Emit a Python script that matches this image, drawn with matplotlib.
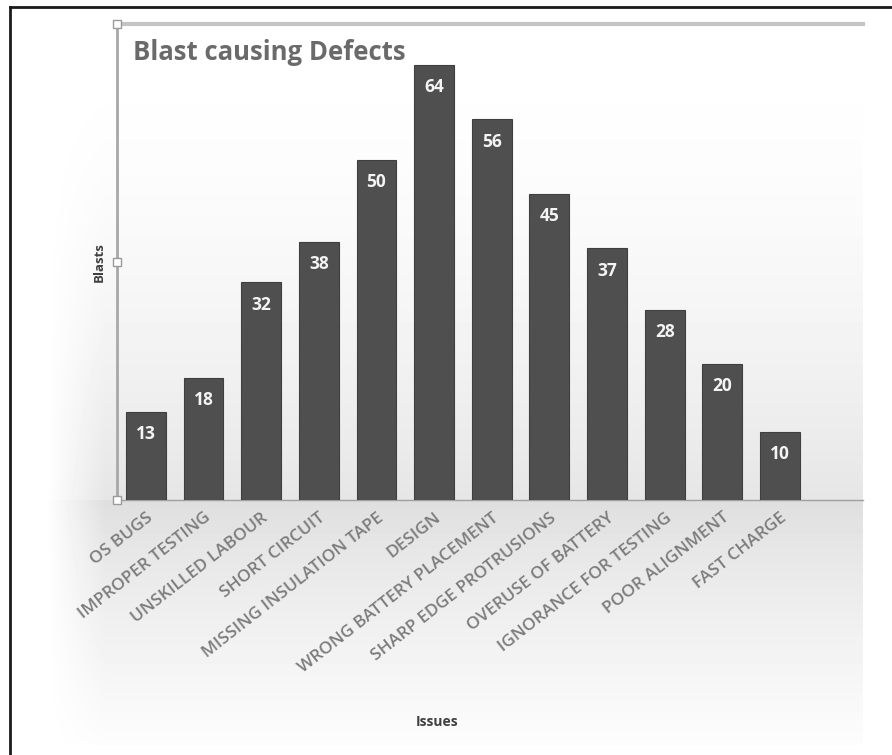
import numpy as np
import matplotlib
matplotlib.use("Agg")
import matplotlib.pyplot as plt
from matplotlib.lines import Line2D

# Datos
issues = ["OS BUGS", "IMPROPER TESTING", "UNSKILLED LABOUR", "SHORT CIRCUIT",
          "MISSING INSULATION TAPE", "DESIGN", "WRONG BATTERY PLACEMENT",
          "SHARP EDGE PROTRUSIONS", "OVERUSE OF BATTERY", "IGNORANCE FOR TESTING",
          "POOR ALIGNMENT", "FAST CHARGE"]
blasts = [13, 18, 32, 38, 50, 64, 56, 45, 37, 28, 20, 10]

plt.rcParams['font.family'] = ['Open Sans', 'DejaVu Sans']

W, H = 892, 755
fig = plt.figure(figsize=(W / 100, H / 100), dpi=100)

# fondo degradado del area del grafico
yy, xx = np.mgrid[0:H, 0:W].astype(float)
bg = np.ones((H, W))
top, base, bottom = 24, 500, 745
upper = (yy >= top) & (yy < base)
lower = (yy >= base) & (yy < bottom)
bg[upper] = 1 - 0.10 * ((yy[upper] - top) / (base - top)) ** 1.8
bg[lower] = 0.87 + 0.12 * ((yy[lower] - base) / (bottom - base)) ** 0.8
side = np.clip((xx - 45) / 60, 0, 1)
bg = 1 - (1 - bg) * side
bg[:, 863:] = 1.0
fig.figimage(bg, cmap='gray', vmin=0, vmax=1, origin='upper', zorder=-5)

ax = fig.add_axes([117 / W, (H - 500) / H, (863 - 117) / W, (500 - 24) / H])
ax.set_facecolor('none')
ax.set_zorder(2)

x = np.arange(len(issues))
bars = ax.bar(x, blasts, width=0.69, color='#4f4f4f', edgecolor='#3f3f3f',
              linewidth=0.8, zorder=3)
for b, v in zip(bars, blasts):
    ax.text(b.get_x() + b.get_width() / 2, v - 3.3, str(v), ha='center',
            va='center', color='#f4f4f4', fontsize=12.5, fontweight='bold', zorder=4)

ax.set_xlim(-0.5, 12.44)
ax.set_ylim(0, 70)
ax.set_yticks([])
ax.set_xticks(x)
ax.set_xticklabels(issues, rotation=38, ha='right', va='top',
                   rotation_mode='anchor', fontsize=12.5, fontweight='semibold',
                   color='#7c7c7c')
ax.tick_params(axis='x', length=0, pad=7)

ax.spines['right'].set_visible(False)
ax.spines['left'].set_color('#a8a8a8')
ax.spines['left'].set_linewidth(2)
ax.spines['top'].set_color('#c4c4c4')
ax.spines['top'].set_linewidth(3)
ax.spines['bottom'].set_color('#a0a0a0')
ax.spines['bottom'].set_linewidth(1)

# asas de seleccion en el eje vertical
ax.plot([-0.5, -0.5, -0.5], [0, 35, 70], linestyle='none', marker='s',
        markersize=6, markerfacecolor='white', markeredgecolor='#9a9a9a',
        markeredgewidth=1, clip_on=False, zorder=5)

# Etiquetas
ax.set_ylabel("Blasts", fontsize=9.5, fontweight='bold', color='#404040', labelpad=8)
fig.text(133 / W, 1 - 52 / H, "Blast causing Defects", fontsize=18.5,
         fontweight='bold', color='#6a6a6a', ha='left', va='center')
fig.text(437 / W, 1 - 722 / H, "Issues", fontsize=10, fontweight='bold',
         color='#404040', ha='center', va='center')

# marco exterior
fig.add_artist(Line2D([10 / W, 1], [1 - 7 / H, 1 - 7 / H], color='#1a1a1a', lw=2))
fig.add_artist(Line2D([10 / W, 10 / W], [0, 1 - 7 / H], color='#1a1a1a', lw=2))

fig.savefig("out.png", dpi=100)
